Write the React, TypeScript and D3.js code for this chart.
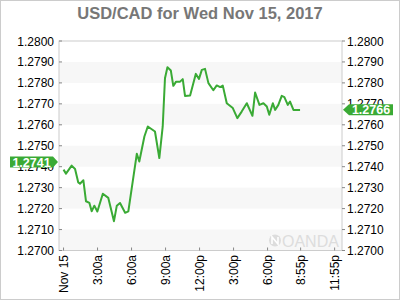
import React from "react";
import * as d3 from "d3";

const TITLE = "USD/CAD for Wed Nov 15, 2017";

// minutes since midnight (Nov 15) and USD/CAD rate
const times: number[] = [
  0, 13, 43, 61, 78, 87, 105, 119, 137, 149, 163, 179, 208, 237, 267, 282, 299, 326, 343,
  388, 401, 428, 446, 484, 507, 525, 537, 550, 568, 581, 596, 617, 631, 643, 670, 700, 717,
  732, 749, 767, 793, 811, 829, 843, 864, 896, 920, 943, 970, 1000, 1014, 1037, 1058, 1076,
  1089, 1108, 1120, 1137, 1155, 1169, 1187, 1199, 1217, 1252,
];
const rates: number[] = [
  1.27386, 1.27367, 1.27405, 1.27389, 1.27325, 1.27319, 1.27335, 1.27235, 1.27227, 1.27187,
  1.27214, 1.27186, 1.27271, 1.27251, 1.2714, 1.27214, 1.27227, 1.2718, 1.27187,
  1.27462, 1.27425, 1.27544, 1.27592, 1.27568, 1.27441, 1.27592, 1.27822, 1.27875, 1.27859,
  1.27786, 1.27806, 1.27806, 1.27818, 1.27738, 1.2774, 1.27843, 1.27819,
  1.27862, 1.27867, 1.27799, 1.27765, 1.27788, 1.2778, 1.27787, 1.27703, 1.2768, 1.27632,
  1.27663, 1.27703, 1.27643, 1.27754, 1.27695, 1.27703, 1.27687,
  1.27648, 1.27703, 1.27671, 1.27695, 1.27738, 1.27732, 1.27695, 1.27711, 1.27671, 1.27671,
];

const yTicks: number[] = [1.27, 1.271, 1.272, 1.273, 1.274, 1.275, 1.276, 1.277, 1.278, 1.279, 1.28];
const xTickTimes: number[] = [0, 180, 360, 540, 720, 900, 1080, 1255, 1435];
const xTickLabels: string[] = ["Nov 15", "3:00a", "6:00a", "9:00a", "12:00p", "3:00p", "6:00p", "8:55p", "11:55p"];

const openLabel = 1.2741;
const lastLabel = 1.2766;

const GREEN = "#3aaa35";

export default function App() {
  const left = 59, right = 342, top = 41, bottom = 250.5;
  const x = d3.scaleLinear().domain([-24, 1474]).range([left, right]);
  const y = d3.scaleLinear().domain([1.27, 1.28]).range([bottom, top]);
  const pts = times.map((t, i) => [t, rates[i]] as [number, number]);
  const line = d3
    .line<[number, number]>()
    .x((d) => x(d[0]))
    .y((d) => y(d[1]));
  const font = "Arial, 'Liberation Sans', sans-serif";

  const bands = yTicks.filter((_, i) => i % 2 === 0 && i < yTicks.length - 1);
  const yl = y(openLabel) - 2.5;
  const yr = y(lastLabel) - 2.5;

  return (
    <svg
      width={400}
      height={300}
      style={{ position: "fixed", left: 0, top: 0, background: "#fff" }}
      fontFamily={font}
    >
      <rect x={0.5} y={0.5} width={399} height={299} fill="#fff" stroke="#ccc" />
      <text x={200} y={19} textAnchor="middle" fontSize={16.5} fontWeight="bold" fill="#777">
        {TITLE}
      </text>
      {/* alternating bands */}
      {bands.map((v) => (
        <rect key={v} x={left} y={y(v + 0.001)} width={right - left} height={y(v) - y(v + 0.001)} fill="#f7f7f7" />
      ))}
      {/* watermark */}
      <g opacity={1}>
        <circle cx={275} cy={240.5} r={6} fill="#ddd" />
        <path d="M272,244 L272,237 L278,244 L278,237" stroke="#fff" strokeWidth={1.6} fill="none" />
        <text x={282} y={246.5} fontSize={16} fill="#ddd" fontWeight={300}>
          OANDA
        </text>
      </g>
      <rect x={left} y={top} width={right - left} height={bottom - top} fill="none" stroke="#ccc" />
      {/* y ticks and labels */}
      {yTicks.map((v) => (
        <g key={v}>
          <line x1={left} x2={left + 3} y1={y(v)} y2={y(v)} stroke="#888" />
          <line x1={right} x2={right + 3} y1={y(v)} y2={y(v)} stroke="#888" />
          <text x={54} y={y(v) + 4.5} textAnchor="end" fontSize={12} fill="#000">
            {v.toFixed(4)}
          </text>
          <text x={347} y={y(v) + 4.5} textAnchor="start" fontSize={12} fill="#000">
            {v.toFixed(4)}
          </text>
        </g>
      ))}
      {/* x ticks and labels */}
      {xTickTimes.map((t, i) => (
        <g key={t}>
          <line x1={x(t)} x2={x(t)} y1={bottom - 3} y2={bottom} stroke="#888" />
          <text
            transform={`translate(${x(t) + 4.5},${255}) rotate(-90)`}
            textAnchor="end"
            fontSize={12}
            fill="#000"
          >
            {xTickLabels[i]}
          </text>
        </g>
      ))}
      <path d={line(pts) || ""} fill="none" stroke={GREEN} strokeWidth={2} strokeLinejoin="round" />
      {/* badges */}
      <path d={`M10,${yl - 5.5} L53,${yl - 5.5} L58,${yl} L53,${yl + 5.5} L10,${yl + 5.5} Z`} fill={GREEN} />
      <text x={31.5} y={yl + 4.5} textAnchor="middle" fontSize={12.5} fontWeight="bold" fill="#fff">
        {openLabel.toFixed(4)}
      </text>
      <path d={`M343,${yr} L349,${yr - 5.5} L393,${yr - 5.5} L393,${yr + 5.5} L349,${yr + 5.5} Z`} fill={GREEN} />
      <text x={371} y={yr + 4.5} textAnchor="middle" fontSize={12.5} fontWeight="bold" fill="#fff">
        {lastLabel.toFixed(4)}
      </text>
    </svg>
  );
}
